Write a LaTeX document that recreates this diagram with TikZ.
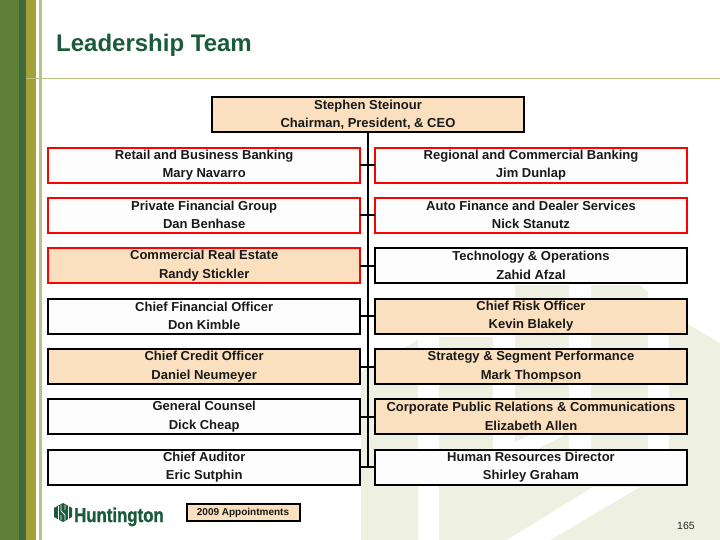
\documentclass[tikz,border=0pt]{standalone}
\usepackage{fontspec}
\setmainfont{Liberation Sans}
\newfontfamily\logofont[UprightFont=* Bold, FakeBold=1.5]{Liberation Sans}
\definecolor{peach}{HTML}{FBE0BF}
\definecolor{paper}{HTML}{FDFDFD}
\definecolor{pale}{HTML}{EEF1E1}
\definecolor{leaf}{HTML}{5F8038}
\definecolor{forest}{HTML}{3F6B3C}
\definecolor{olive}{HTML}{A3A037}
\definecolor{rule}{HTML}{B9C183}
\definecolor{brand}{HTML}{1A5C3A}
\newcommand{\rowstrut}{\rule[-1pt]{0pt}{12pt}}
\tikzset{
  person/.style={draw=black, fill=paper, line width=2pt, outer sep=0pt, inner sep=0pt,
    minimum width=312pt, minimum height=35pt, align=center,
    font=\fontsize{13}{18.5}\selectfont\bfseries, text=black!90,
    execute at begin node=\rowstrut, execute at end node=\rowstrut},
  newhire/.style={person, fill=peach},
  line/.style={person, draw=red},
  linenew/.style={line, fill=peach},
  key/.style={draw=black, fill=peach, line width=2pt, outer sep=0pt, inner sep=0pt,
    minimum width=113pt, minimum height=17pt, font=\fontsize{10}{12}\selectfont\bfseries, text=black!90},
  link/.style={black, line width=2pt},
}
\begin{document}
\begin{tikzpicture}[x=1pt,y=-1pt]
\useasboundingbox (0,0) rectangle (720,540);
% side stripes
\fill[leaf] (0,0) rectangle (19,540);
\fill[forest] (19,0) rectangle (26,540);
\fill[olive] (26,0) rectangle (36,540);
\fill[rule] (38.5,0) rectangle (41.5,540);
\draw[rule, line width=1pt] (26,78.5) -- (720,78.5);
% watermark
\fill[pale] (361,372) -- (418,340) -- (418,540) -- (361,540) -- cycle;
\fill[pale] (439,337) rectangle (493,540);
\fill[pale] (515,285) rectangle (569,540);
\fill[pale] (591,285) -- (640,285) -- (648,292) -- (648,540) -- (591,540) -- cycle;
\fill[pale] (669,313) -- (720,343) -- (720,540) -- (669,540) -- cycle;
\fill[pale] (439,470) rectangle (720,540);
\fill[white] (507,540) -- (593,487) -- (640,487) -- (550,540) -- cycle;
\fill[white] (515,449) -- (537,449) -- (565,435) -- (530,435) -- (515,442) -- cycle;
% title
\node[anchor=base west, inner sep=0pt, text=brand, font=\fontsize{24}{24}\selectfont\bfseries] (title) at (56,52) {Leadership Team};
% boxes
\node[newhire] (ceo) at (368,115) {Stephen Steinour\\Chairman, President, \& CEO};
\node[line] (retail) at (204.2,165.2) {Retail and Business Banking\\Mary Navarro};
\node[line] (regional) at (531,165.2) {Regional and Commercial Banking\\Jim Dunlap};
\node[line] (private) at (204.2,215.5) {Private Financial Group\\Dan Benhase};
\node[line] (auto) at (531,215.5) {Auto Finance and Dealer Services\\Nick Stanutz};
\node[linenew] (estate) at (204.2,265.8) {Commercial Real Estate\\Randy Stickler};
\node[person] (tech) at (531,265.8) {Technology \& Operations\\Zahid Afzal};
\node[person] (cfo) at (204.2,316.2) {Chief Financial Officer\\Don Kimble};
\node[newhire] (risk) at (531,316.2) {Chief Risk Officer\\Kevin Blakely};
\node[newhire] (credit) at (204.2,366.5) {Chief Credit Officer\\Daniel Neumeyer};
\node[newhire] (strategy) at (531,366.5) {Strategy \& Segment Performance\\Mark Thompson};
\node[person] (counsel) at (204.2,416.8) {General Counsel\\Dick Cheap};
\node[newhire] (public) at (531,416.8) {Corporate Public Relations \& Communications\\Elizabeth Allen};
\node[person] (auditor) at (204.2,467) {Chief Auditor\\Eric Sutphin};
\node[person] (hr) at (531,467) {Human Resources Director\\Shirley Graham};
% connectors
\coordinate (trunkend) at (368,467);
\draw[link] (ceo) -- (trunkend);
\foreach \a/\b in {retail/regional, private/auto, estate/tech, cfo/risk, credit/strategy, counsel/public, auditor/hr}
  \draw[link] (\a) -- (\b);
% legend and page number
\node[key] (legend) at (243,512.7) {2009 Appointments};
\node[anchor=base, inner sep=0pt, font=\fontsize{10.5}{12}\selectfont, text=black!85] (page) at (686,529) {165};
% logo
\node[anchor=base west, inner sep=0pt, text=brand, font=\fontsize{20}{20}\logofont, xscale=0.84] (logo) at (74,522) {Huntington};
\fill[brand] (63,503) -- (72,508) -- (72,517) -- (63,522) -- (54,517) -- (54,508) -- cycle;
\draw[white, line width=0.8pt] (58,505.5) -- (58,519.5) (68,505.5) -- (68,519.5);
\draw[white, line width=0.8pt] (61,505) -- (61,511) -- (65,515) -- (65,520) (65,505) -- (65,510) (61,515) -- (61,520);
\end{tikzpicture}
\end{document}
